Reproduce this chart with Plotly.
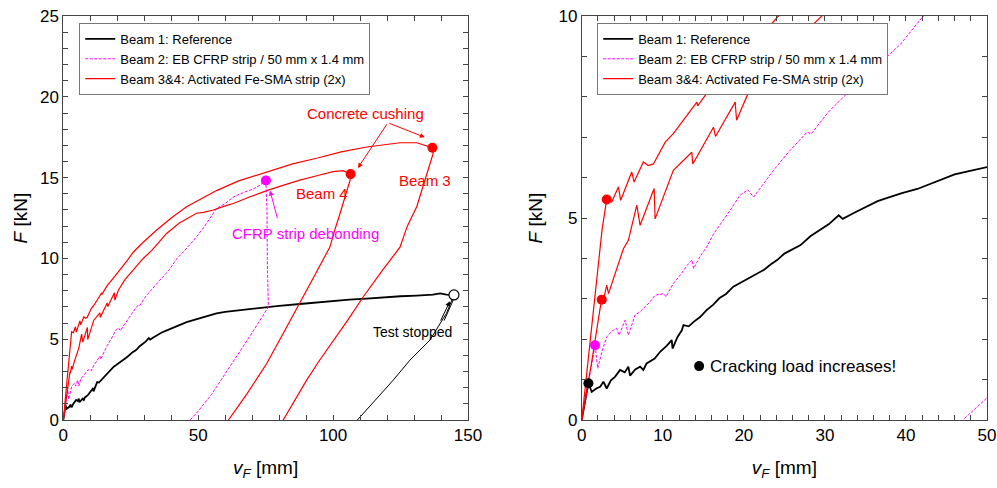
import plotly.graph_objects as go

# ---------------- data ----------------
# Beam 1: Reference (loading)
b1_x = [0, 0.4, 0.82, 1.23, 1.8, 2.26, 2.67, 3.08, 3.6, 4.1, 4.73, 5.3, 5.75, 5.96, 6.6, 7.2, 7.6, 8.0,
        9.0, 9.67, 10.5, 11.1, 11.2, 11.8, 12.35, 12.55, 13.2, 13.8, 14.6, 15.4, 16.2, 17.0, 17.8, 18.7,
        19.6, 20.5, 21.6, 22.5, 23.3, 24.1, 25.0, 25.7, 27.0, 28.2, 29.5, 30.5, 31.7, 32.2, 33.5, 35.2,
        36.5, 37.7, 39.5, 41.4, 43.0, 44.6, 46.0, 47.5, 50.0, 53, 56.8, 60, 65, 70, 75.4, 80, 87.7, 95,
        100, 106, 112.4, 118, 125, 131, 137, 139.7, 142, 144.8]
b1_y = [0, 0.45, 0.91, 0.70, 0.78, 0.82, 0.95, 0.78, 0.98, 1.07, 1.24, 1.18, 1.32, 1.10, 1.25, 1.32, 1.24, 1.40,
        1.52, 1.69, 1.84, 1.98, 1.77, 2.05, 2.22, 2.35, 2.32, 2.43, 2.55, 2.72, 2.85, 3.02, 3.12, 3.30,
        3.40, 3.50, 3.63, 3.72, 3.85, 3.96, 4.12, 4.20, 4.33, 4.55, 4.72, 4.85, 5.07, 4.98, 5.12, 5.30,
        5.42, 5.50, 5.62, 5.72, 5.85, 5.98, 6.08, 6.15, 6.25, 6.40, 6.60, 6.70, 6.80, 6.90, 6.98, 7.06, 7.18, 7.30,
        7.36, 7.45, 7.52, 7.60, 7.66, 7.70, 7.76, 7.84, 7.76, 7.74]
# Beam 1: after test stop
b1u_x = [109, 112.4, 117, 122.3, 128.5, 135.9, 142, 144.8]
b1u_y = [0, 0.62, 1.5, 2.47, 3.71, 4.95, 6.6, 7.74]

# Beam 2: EB CFRP strip (loading)
b2_x = [0, 0.8, 1.64, 1.97, 2.5, 3.09, 3.7, 4.3, 4.6, 5.35, 5.75, 6.58, 7.2, 7.8, 8.4, 9.05, 10.1, 10.4,
        11.3, 12.2, 13.0, 13.6, 13.8, 14.6, 15.4, 16.25, 17.5, 18.5, 19.5, 20.5, 21.2, 22.2, 23.65, 25.5,
        26.7, 27.8, 28.3, 30.4, 32.7, 35.6, 39.3, 42, 45, 48.2, 52, 56.8, 60, 63, 67, 70.4, 73, 75.1]
b2_y = [0, 0.9, 1.85, 1.28, 1.7, 2.06, 2.2, 2.27, 2.1, 2.47, 2.1, 2.6, 2.68, 2.8, 2.92, 3.09, 3.13, 3.05,
        3.38, 3.6, 3.83, 3.96, 3.75, 4.05, 4.28, 4.6, 4.95, 5.25, 5.56, 5.7, 5.52, 5.8, 6.18, 6.63,
        6.9, 7.13, 7.08, 7.62, 8.08, 8.62, 9.3, 9.97, 10.5, 11.1, 11.9, 13.1, 13.4, 13.8, 14.1, 14.3, 14.55, 14.83]
# Beam 2: after debonding
b2u_x = [75.1, 75.5, 75.6, 75.8, 76, 70, 62, 55, 50, 47]
b2u_y = [14.83, 13, 10, 8, 7, 5.4, 3.4, 1.6, 0.55, 0]

# Beam 3: activated Fe-SMA (loading + unloading)
b3_x = [0, 1.5, 2.5, 3.08, 3.7, 4.52, 4.8, 6.17, 6.46, 7.6, 8.2, 8.84, 10.3, 11.3, 13.0, 14.2, 14.3,
        16.25, 18.7, 21.2, 23.65, 26, 29.6, 34.6, 40, 45.7, 50, 56.8, 65, 75.4, 85, 93.9, 103, 112.5,
        120, 124.8, 131, 136.8,
        137.1, 134, 131, 127.5, 124.8, 118, 111.2, 105.5, 100.1, 95, 90.2, 86, 81.5]
b3_y = [0, 2.8, 4.7, 5.46, 5.4, 5.77, 5.44, 6.14, 5.89, 6.39, 6.3, 6.34, 6.88, 7.09, 7.54, 7.87, 7.78,
        8.32, 8.82, 9.31, 9.86, 10.4, 11.0, 11.76, 12.5, 13.2, 13.6, 14.2, 14.8, 15.37, 15.85, 16.2, 16.6, 16.9,
        17.08, 17.16, 17.16, 16.85,
        16.5, 14.8, 13.2, 12.0, 10.7, 9.2, 7.63, 6.2, 4.95, 3.7, 2.47, 1.3, 0]

# Beam 4: activated Fe-SMA (loading + unloading)
b4_x = [0, 1.2, 2.26, 2.47, 2.6, 3.08, 3.3, 4.1, 5.14, 5.75, 6.79, 7.2, 8.93, 9.05, 11.3, 13.58, 13.7,
        16.25, 16.5, 18.93, 19.1, 20.4, 22.84, 26.5, 29.6, 32.8, 35.8, 38.3, 43, 49.4, 52, 55.6, 60, 63,
        69, 75.4, 82, 87.7, 94, 100, 103.8, 106.5,
        106.3, 104.5, 102.6, 100.7, 98.8, 93, 87.7, 81.5, 75.4, 68, 61.2]
b4_y = [0, 1.4, 2.76, 2.98, 2.9, 3.34, 3.13, 3.63, 4.24, 4.45, 5.32, 4.82, 5.73, 4.98, 6.18, 6.63, 6.34,
        7.25, 7.02, 7.87, 7.42, 8.03, 8.69, 9.39, 10.0, 10.5, 11.1, 11.55, 12.2, 12.8, 12.85, 13.0, 13.25, 13.4,
        13.8, 14.2, 14.55, 14.85, 15.12, 15.37, 15.43, 15.22,
        14.85, 13.8, 12.8, 11.8, 10.7, 8.9, 7.22, 5.35, 3.5, 1.6, 0]

# failure points (left chart)
fail_b2 = (75.1, 14.83)
fail_b3 = (136.8, 16.85)
fail_b4 = (106.5, 15.22)
stop_b1 = (144.8, 7.74)
# cracking points (right chart)
crack_x = [0.82, 1.64, 2.47, 3.08]
crack_y = [0.91, 1.85, 2.98, 5.46]
crack_c = ["black", "#ff00ff", "#ff0000", "#ff0000"]

names = ["Beam 1: Reference", "Beam 2: EB CFRP strip / 50 mm x 1.4 mm", "Beam 3&4: Activated Fe-SMA strip (2x)"]

BLACK, MAG, RED = "black", "#ff00ff", "#ff0000"
FONT = "Liberation Sans, Arial, sans-serif"

fig = go.Figure()

for ax, lg in (("", "legend"), ("2", "legend2")):
    xa, ya = "x" + ax, "y" + ax
    fig.add_trace(go.Scatter(x=b1_x, y=b1_y, mode="lines", line=dict(color=BLACK, width=1.8),
                             name=names[0], legend=lg, xaxis=xa, yaxis=ya))
    fig.add_trace(go.Scatter(x=b2_x, y=b2_y, mode="lines", line=dict(color=MAG, width=1, dash="3px,1.5px"),
                             name=names[1], legend=lg, xaxis=xa, yaxis=ya))
    fig.add_trace(go.Scatter(x=b3_x, y=b3_y, mode="lines", line=dict(color=RED, width=1.2),
                             name=names[2], legend=lg, xaxis=xa, yaxis=ya))
    fig.add_trace(go.Scatter(x=b4_x, y=b4_y, mode="lines", line=dict(color=RED, width=1.2),
                             showlegend=False, xaxis=xa, yaxis=ya))
    fig.add_trace(go.Scatter(x=b1u_x, y=b1u_y, mode="lines", line=dict(color=BLACK, width=1),
                             showlegend=False, xaxis=xa, yaxis=ya))
    fig.add_trace(go.Scatter(x=b2u_x, y=b2u_y, mode="lines", line=dict(color=MAG, width=1, dash="3px,1.5px"),
                             showlegend=False, xaxis=xa, yaxis=ya))

# markers left
fig.add_trace(go.Scatter(x=[fail_b2[0]], y=[fail_b2[1]], mode="markers", marker=dict(color=MAG, size=10),
                         showlegend=False, xaxis="x", yaxis="y"))
fig.add_trace(go.Scatter(x=[fail_b3[0], fail_b4[0]], y=[fail_b3[1], fail_b4[1]], mode="markers",
                         marker=dict(color=RED, size=10), showlegend=False, xaxis="x", yaxis="y"))
fig.add_trace(go.Scatter(x=[stop_b1[0]], y=[stop_b1[1]], mode="markers",
                         marker=dict(color="white", size=10, line=dict(color=BLACK, width=1.2)),
                         showlegend=False, xaxis="x", yaxis="y"))
# markers right
fig.add_trace(go.Scatter(x=crack_x, y=crack_y, mode="markers", marker=dict(color=crack_c, size=10),
                         showlegend=False, xaxis="x2", yaxis="y2", cliponaxis=False))
fig.add_trace(go.Scatter(x=[14.48], y=[1.335], mode="markers", marker=dict(color=BLACK, size=10),
                         showlegend=False, xaxis="x2", yaxis="y2"))

axis_common = dict(showgrid=False, zeroline=False, showline=True, linecolor="#444", linewidth=1,
                   mirror="allticks", ticks="inside", ticklen=5, tickcolor="#444", automargin=False,
                   ticklabeloverflow="allow",
                   tickfont=dict(size=17, color="black", family=FONT))

def minor(d):
    return dict(dtick=d, ticks="inside", ticklen=5, tickcolor="#444")

fig.update_layout(
    width=997, height=488, margin=dict(l=0, r=0, t=0, b=0, autoexpand=False),
    paper_bgcolor="white", plot_bgcolor="white",
    font=dict(family=FONT, color="black"),
    xaxis=dict(domain=[0.0635, 0.4694], range=[0, 150], dtick=50, minor=minor(10), anchor="y",
               title=dict(text="<i>v</i><sub><i>F</i></sub> [mm]", font=dict(size=19), standoff=16),
               **axis_common),
    yaxis=dict(domain=[0.1393, 0.967], range=[0, 25], dtick=5, minor=minor(1), anchor="x",
               title=dict(text="<i>F</i> [kN]", font=dict(size=19), standoff=7), **axis_common),
    xaxis2=dict(domain=[0.5835, 0.99], range=[0, 50], dtick=10, minor=minor(2), anchor="y2",
                title=dict(text="<i>v</i><sub><i>F</i></sub> [mm]", font=dict(size=19), standoff=16),
                **axis_common),
    yaxis2=dict(domain=[0.1393, 0.967], range=[0, 10], dtick=5, minor=minor(1), anchor="x2",
                title=dict(text="<i>F</i> [kN]", font=dict(size=19), standoff=10), **axis_common),
    legend=dict(x=0.0795, y=0.953, xanchor="left", yanchor="top", bgcolor="white",
                bordercolor="#777", borderwidth=1, font=dict(size=13, family=FONT)),
    legend2=dict(x=0.599, y=0.953, xanchor="left", yanchor="top", bgcolor="white",
                 bordercolor="#777", borderwidth=1, font=dict(size=13, family=FONT)),
)

ann = []
# Concrete crushing arrows
for hx, hy in ((134, 17.5), (109.2, 15.6)):
    ann.append(dict(x=hx, y=hy, ax=120.3, ay=18.4, xref="x", yref="y", axref="x", ayref="y",
                    text="", showarrow=True, arrowhead=2, arrowsize=1, arrowwidth=1, arrowcolor=RED))
ann.append(dict(x=112, y=19.0, xref="x", yref="y", text="Concrete cushing", showarrow=False,
                font=dict(size=15, color=RED)))
ann.append(dict(x=134, y=14.85, xref="x", yref="y", text="Beam 3", showarrow=False,
                font=dict(size=15, color=RED)))
ann.append(dict(x=95.9, y=14.0, xref="x", yref="y", text="Beam 4", showarrow=False,
                font=dict(size=15, color=RED)))
ann.append(dict(x=76.6, y=14.2, ax=79.5, ay=12.4, xref="x", yref="y", axref="x", ayref="y",
                text="", showarrow=True, arrowhead=2, arrowwidth=1, arrowcolor=MAG))
ann.append(dict(x=89.6, y=11.57, xref="x", yref="y", text="CFRP strip debonding", showarrow=False,
                font=dict(size=15, color=MAG)))
ann.append(dict(x=143.3, y=7.35, ax=139.6, ay=6.06, xref="x", yref="y", axref="x", ayref="y",
                text="", showarrow=True, arrowhead=2, arrowwidth=1, arrowcolor=BLACK))
ann.append(dict(x=144.6, y=7.45, ax=140.9, ay=6.06, xref="x", yref="y", axref="x", ayref="y",
                text="", showarrow=True, arrowhead=0, arrowwidth=1, arrowcolor=BLACK))
ann.append(dict(x=129.6, y=5.45, xref="x", yref="y", text="Test stopped", showarrow=False,
                font=dict(size=14, color=BLACK)))
ann.append(dict(x=15.6, y=1.335, xref="x2", yref="y2", xanchor="left", text="Cracking load increases!",
                showarrow=False, font=dict(size=17, color=BLACK)))
fig.update_layout(annotations=ann)

# remove the browser's default 8 px body margin so the figure fills the window exactly
fig.write_html("out.html", config={"displayModeBar": False},
               post_script="document.body.style.margin='0px';")
